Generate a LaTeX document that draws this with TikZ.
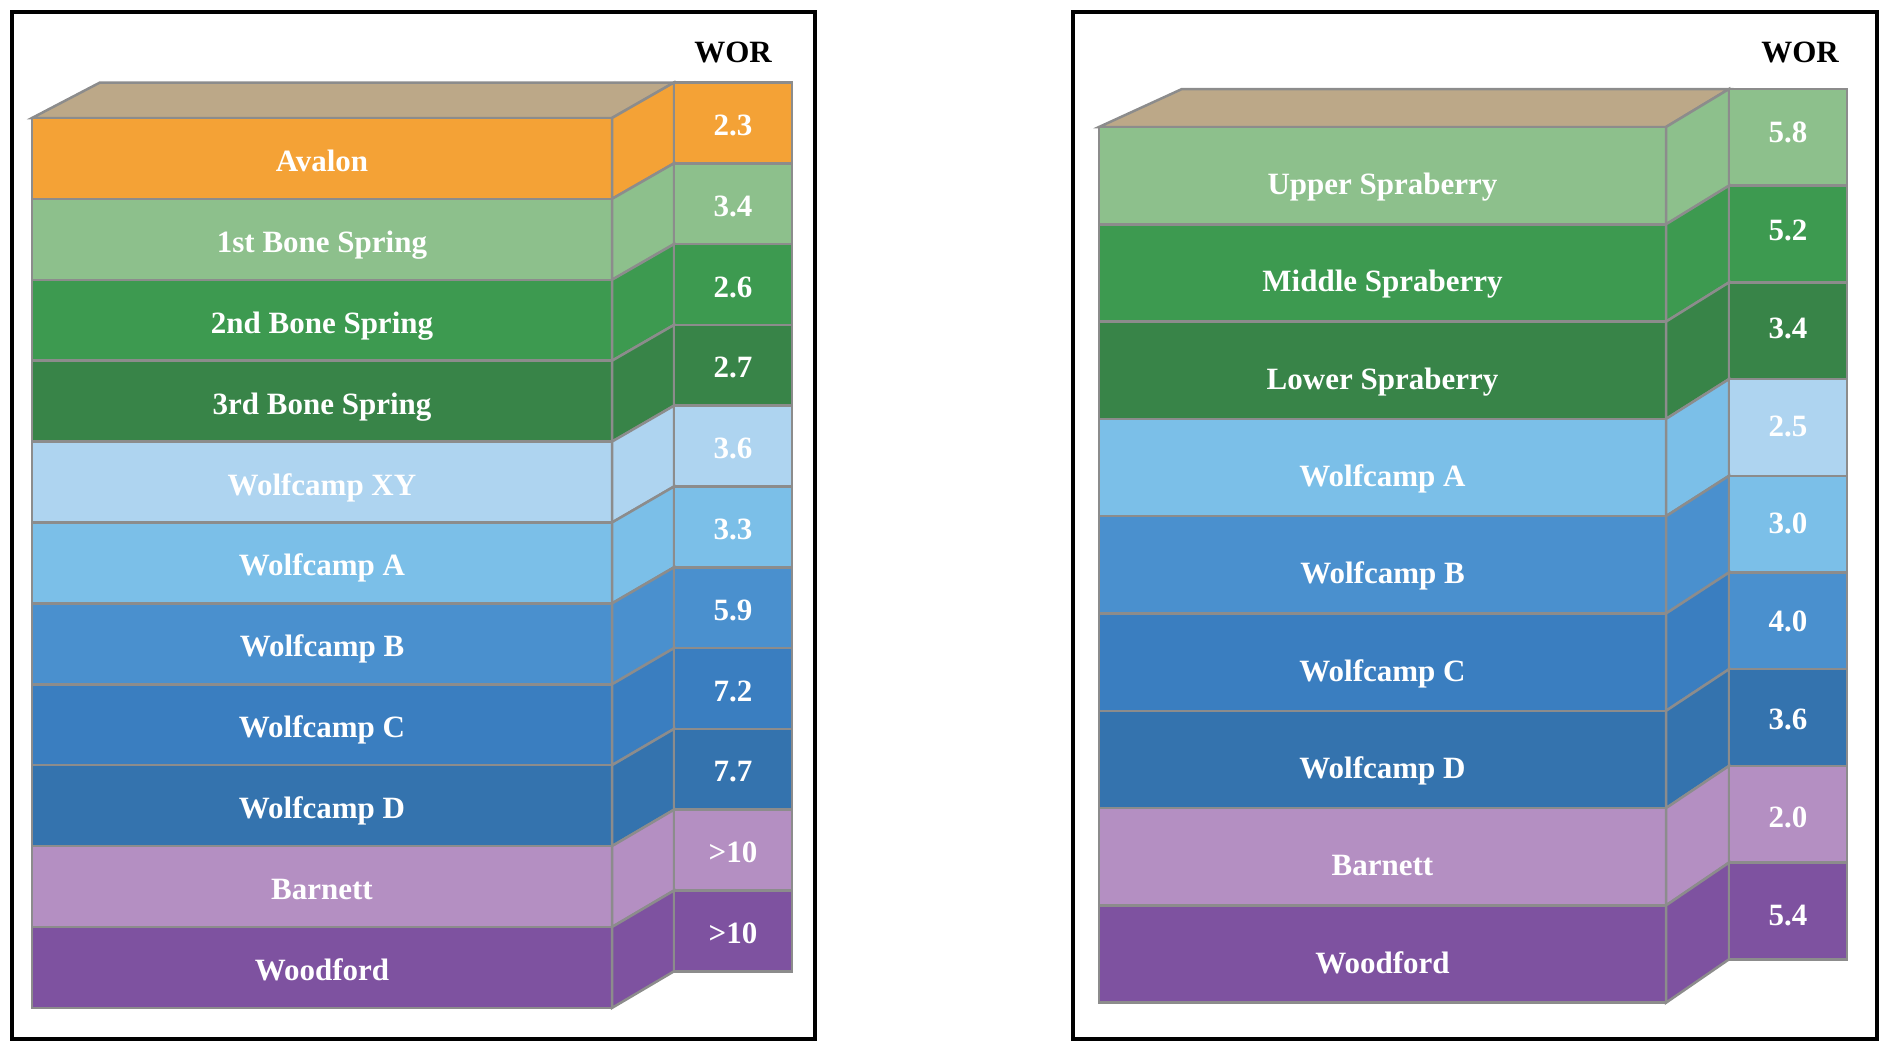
\documentclass[tikz,border=0pt]{standalone}
\usepackage{fontspec}
\setmainfont{Liberation Serif}

\definecolor{topTan}{RGB}{188,168,136}
\definecolor{avalonOr}{RGB}{244,162,54}
\definecolor{greenLt}{RGB}{141,192,140}
\definecolor{greenMd}{RGB}{61,154,80}
\definecolor{greenDk}{RGB}{56,132,72}
\definecolor{bluePale}{RGB}{174,212,240}
\definecolor{blueLt}{RGB}{123,191,232}
\definecolor{blueB}{RGB}{74,144,206}
\definecolor{blueC}{RGB}{58,126,192}
\definecolor{blueD}{RGB}{52,115,174}
\definecolor{lilac}{RGB}{180,143,194}
\definecolor{purp}{RGB}{126,82,160}
\definecolor{edgeGray}{RGB}{140,140,140}

\tikzset{
  slab/.style={draw=edgeGray, line width=2.5pt, line join=miter},
  panel/.style={draw=black, line width=3.5pt},
  lab/.style={text=white, anchor=base, inner sep=0pt, font=\bfseries\fontsize{31}{36}\selectfont},
  worhead/.style={text=black, anchor=base, inner sep=0pt, font=\bfseries\fontsize{31}{36}\selectfont}
}

\begin{document}
\begin{tikzpicture}[x=1pt, y=-1pt]
  \useasboundingbox (0,0) rectangle (1890,1052);

  % Left panel
  \draw[panel] (12,12) rectangle (815,1039);
  \node[worhead] (worL) at (733,62) {WOR};
  \fill[slab, fill=topTan] (32,118) -- (100,82.5) -- (674,82.5) -- (612,118) -- cycle;
  \foreach \lab/\wor/\col/\wcol [count=\i from 0] in {
      Avalon/2.3/avalonOr/avalonOr,
      1st Bone Spring/3.4/greenLt/greenLt,
      2nd Bone Spring/2.6/greenMd/greenMd,
      3rd Bone Spring/2.7/greenDk/greenDk,
      Wolfcamp XY/3.6/bluePale/bluePale,
      Wolfcamp A/3.3/blueLt/blueLt,
      Wolfcamp B/5.9/blueB/blueB,
      Wolfcamp C/7.2/blueC/blueC,
      Wolfcamp D/7.7/blueD/blueD,
      Barnett/>10/lilac/lilac,
      Woodford/>10/purp/purp} {
    \pgfmathsetmacro{\fa}{118+80.9*\i}
    \pgfmathsetmacro{\fb}{118+80.9*(\i+1)}
    \pgfmathsetmacro{\wa}{82.5+80.8*\i}
    \pgfmathsetmacro{\wb}{82.5+80.8*(\i+1)}
    \filldraw[slab, fill=\col] (32,\fa) rectangle (612,\fb);
    \filldraw[slab, fill=\col] (612,\fa) -- (674,\wa) -- (674,\wb) -- (612,\fb) -- cycle;
    \filldraw[slab, fill=\wcol] (674,\wa) rectangle (792,\wb);
    \node[lab] (layL\i) at (322,{(\fa+\fb)/2+13}) {\lab};
    \node[lab] (valL\i) at (733,{(\wa+\wb)/2+12.5}) {\wor};
  }

  % Right panel
  \draw[panel] (1073,12) rectangle (1877,1039);
  \node[worhead] (worR) at (1800,62) {WOR};
  \fill[slab, fill=topTan] (1099,127) -- (1182,89) -- (1729,89) -- (1666,127) -- cycle;
  \foreach \lab/\wor/\col/\wcol [count=\i from 0] in {
      Upper Spraberry/5.8/greenLt/greenLt,
      Middle Spraberry/5.2/greenMd/greenMd,
      Lower Spraberry/3.4/greenDk/greenDk,
      Wolfcamp A/2.5/blueLt/bluePale,
      Wolfcamp B/3.0/blueB/blueLt,
      Wolfcamp C/4.0/blueC/blueB,
      Wolfcamp D/3.6/blueD/blueD,
      Barnett/2.0/lilac/lilac,
      Woodford/5.4/purp/purp} {
    \pgfmathsetmacro{\fa}{127+97.3*\i}
    \pgfmathsetmacro{\fb}{127+97.3*(\i+1)}
    \pgfmathsetmacro{\wa}{89+96.7*\i}
    \pgfmathsetmacro{\wb}{89+96.7*(\i+1)}
    \filldraw[slab, fill=\col] (1099,\fa) rectangle (1666,\fb);
    \filldraw[slab, fill=\col] (1666,\fa) -- (1729,\wa) -- (1729,\wb) -- (1666,\fb) -- cycle;
    \filldraw[slab, fill=\wcol] (1729,\wa) rectangle (1847,\wb);
    \node[lab] (layR\i) at (1382.5,{(\fa+\fb)/2+19}) {\lab};
    \node[lab] (valR\i) at (1788,{132.6+97.8*\i+10}) {\wor};
  }
\end{tikzpicture}
\end{document}
